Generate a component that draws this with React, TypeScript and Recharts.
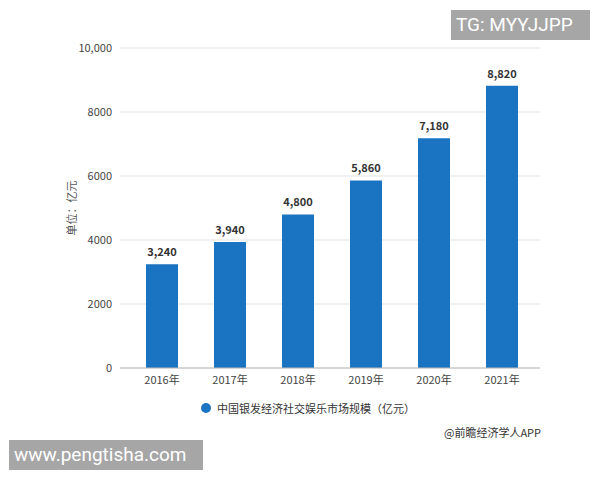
import {
    BarChart,
    Bar,
    XAxis,
    YAxis,
    CartesianGrid,
    LabelList,
    Legend,
} from "recharts";

const years = ["2016年", "2017年", "2018年", "2019年", "2020年", "2021年"];
const marketSize = [3240, 3940, 4800, 5860, 7180, 8820];
const yTicks = [0, 2000, 4000, 6000, 8000, 10000];

const seriesName = "中国银发经济社交娱乐市场规模（亿元）";
const data = years.map((year, i) => ({ year, value: marketSize[i] }));

const FONT = "'Noto Sans CJK SC', 'Noto Sans', sans-serif";
const BLUE = "#1a74c2";

function LegendContent() {
    return (
        <div style={{ display: "flex", justifyContent: "center", alignItems: "center", fontSize: 11, color: "#333", fontFamily: FONT }}>
            <span style={{ width: 10, height: 10, borderRadius: 5, background: BLUE, marginRight: 6, marginLeft: 16 }} />
            <span>{seriesName}</span>
        </div>
    );
}

const fmtTick = (v: number) => (v >= 10000 ? v.toLocaleString("en-US") : String(v));

const stamp = {
    position: "absolute" as const,
    height: 30,
    background: "#a6a6a6",
    color: "#fff",
    fontSize: 19,
    fontFamily: "Roboto, sans-serif",
    lineHeight: "30px",
    paddingLeft: 5,
    boxSizing: "border-box" as const,
};

export default function App() {
    return (
        <div style={{ position: "absolute", left: 0, top: 0, width: 600, height: 480, background: "#fff", fontFamily: FONT }}>
            <BarChart
                width={600}
                height={480}
                data={data}
                margin={{ top: 48, right: 60, left: 60, bottom: 82 }}
            >
                <CartesianGrid stroke="#e3e3e3" vertical={false} />
                <XAxis
                    dataKey="year"
                    padding={{ left: 8, right: 4 }}
                    tick={{ fill: "#444", fontSize: 11 }}
                    tickLine={false}
                    axisLine={{ stroke: "#bbb" }}
                    height={30}
                />
                <YAxis
                    ticks={yTicks}
                    domain={[0, 10000]}
                    tickFormatter={fmtTick}
                    tick={{ fill: "#444", fontSize: 11 }}
                    tickLine={false}
                    axisLine={false}
                    width={60}
                    label={{
                        value: "单位：亿元",
                        angle: -90,
                        position: "insideLeft",
                        offset: 12,
                        fill: "#555",
                        style: { fill: "#555", fontSize: 11, textAnchor: "middle" },
                    }}
                />
                <Legend
                    layout="horizontal"
                    verticalAlign="middle"
                    align="center"
                    content={<LegendContent />}
                    wrapperStyle={{ top: 400, left: 0, width: 600 }}
                />
                <Bar dataKey="value" name={seriesName} fill={BLUE} barSize={32} isAnimationActive={false}>
                    <LabelList
                        dataKey="value"
                        position="top"
                        offset={8}
                        formatter={(v: any) => Number(v).toLocaleString("en-US")}
                        style={{ fill: "#333", fontSize: 11, fontWeight: 700 }}
                    />
                </Bar>
            </BarChart>
            <div style={{ position: "absolute", left: 444, top: 424, fontSize: 11, color: "#333" }}>
                @前瞻经济学人APP
            </div>
            <div style={{ ...stamp, left: 451, top: 10, width: 139 }}>TG: MYYJJPP</div>
            <div style={{ ...stamp, left: 9, top: 440, width: 194 }}>www.pengtisha.com</div>
        </div>
    );
}
